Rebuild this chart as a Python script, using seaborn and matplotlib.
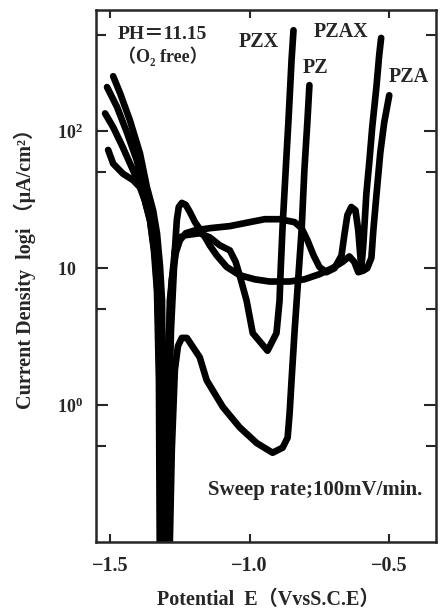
import matplotlib
matplotlib.use("Agg")
import matplotlib.pyplot as plt
import matplotlib.ticker as mticker
import pandas as pd
import seaborn as sns

# potential E (V vs SCE) and current density (uA/cm2)
pzx_e = [-1.489, -1.464, -1.429, -1.393, -1.368, -1.346, -1.332, -1.321, -1.314, -1.311, -1.307,
         -1.300, -1.293, -1.286, -1.268, -1.250, -1.232, -1.179, -1.143, -1.107, -1.071, -1.050,
         -1.036, -1.011, -0.989, -0.936, -0.904, -0.893, -0.889, -0.882, -0.871, -0.861, -0.850, -0.843]
pzx_i = [252, 189, 120, 69, 39, 26.5, 18.0, 10.2, 5.8, 1.09, 0.03,
         0.03, 1.0, 5.8, 13.5, 16.8, 17.4, 18.0, 16.8, 14.7, 13.5, 11.1,
         8.9, 5.8, 3.36, 2.5, 3.36, 5.8, 9.7, 20.3, 52, 120, 330, 546]

pz_e = [-1.511, -1.475, -1.439, -1.404, -1.382, -1.357, -1.339, -1.329, -1.321, -1.318, -1.314,
        -1.293, -1.286, -1.279, -1.268, -1.257, -1.243, -1.225, -1.179, -1.154, -1.096, -1.036,
        -0.975, -0.918, -0.882, -0.864, -0.857, -0.850, -0.839, -0.829, -0.814, -0.804, -0.793, -0.786]
pz_i = [210, 150, 97, 61, 39, 24.4, 14.7, 8.2, 3.0, 0.47, 0.03,
        0.03, 0.1, 0.47, 1.8, 2.7, 3.1, 3.1, 2.24, 1.52, 0.97, 0.69,
        0.53, 0.45, 0.49, 0.58, 0.87, 1.52, 3.5, 6.9, 18.9, 52, 120, 217]

pza_e = [-1.507, -1.489, -1.454, -1.418, -1.393, -1.375, -1.357, -1.343, -1.332, -1.325, -1.321,
         -1.300, -1.289, -1.282, -1.275, -1.268, -1.261, -1.254, -1.243, -1.229, -1.214, -1.196,
         -1.168, -1.143, -1.118, -1.082, -1.036, -0.982, -0.929, -0.857, -0.804, -0.750, -0.704,
         -0.668, -0.643, -0.625, -0.611, -0.593, -0.579, -0.564, -0.557, -0.546, -0.532, -0.518, -0.500]
pza_i = [73, 58, 49, 44, 39, 31, 22.4, 13.5, 6.9, 1.52, 0.03,
         0.03, 0.78, 3.5, 6.9, 13.5, 22.4, 28, 30, 29, 25.7, 21.7,
         18.0, 14.7, 12.4, 10.2, 8.9, 8.3, 8.0, 8.0, 8.3, 9.05, 10.0,
         11.1, 12.2, 11.1, 9.35, 9.6, 10.0, 11.9, 18.9, 34, 70, 116, 183]

pzax_e = [-1.518, -1.489, -1.454, -1.418, -1.382, -1.357, -1.339, -1.329, -1.321, -1.318,
          -1.304, -1.296, -1.289, -1.279, -1.264, -1.250, -1.229, -1.196, -1.143, -1.071, -1.000,
          -0.946, -0.893, -0.839, -0.814, -0.793, -0.771, -0.750, -0.725, -0.696, -0.671, -0.661,
          -0.650, -0.636, -0.621, -0.611, -0.600, -0.593, -0.582, -0.571, -0.561, -0.546, -0.536, -0.529]
pzax_i = [135, 107, 76, 52, 35, 22.4, 12.4, 5.8, 1.09, 0.03,
          0.03, 0.78, 3.5, 8.2, 13.1, 16.0, 18.0, 18.9, 19.6, 20.3, 21.7,
          22.8, 22.8, 21.7, 19.6, 16.0, 12.4, 10.2, 9.35, 10.0, 12.4, 17.4,
          24.4, 28, 26.5, 18.9, 10.0, 14.7, 35, 61, 107, 210, 360, 480]

curve_names = ["PZX", "PZ", "PZA", "PZAX"]
major_ticks = [1, 10, 100]
major_labels = [r"$\mathbf{10^0}$", r"$\mathbf{10}$", r"$\mathbf{10^2}$"]
minor_ticks = [0.5, 5, 50, 500]
x_ticks = [-1.5, -1.0, -0.5]
x_labels = ["\u22121.5", "\u22121.0", "\u22120.5"]

frames = []
for name, e, i in zip(curve_names, [pzx_e, pz_e, pza_e, pzax_e], [pzx_i, pz_i, pza_i, pzax_i]):
    frames.append(pd.DataFrame({"E": e, "i": i, "curve": name}))
df = pd.concat(frames, ignore_index=True)

sns.set_style("ticks")
plt.rcParams["font.family"] = ["Liberation Serif", "Noto Sans CJK JP"]
plt.rcParams["mathtext.fontset"] = "custom"
plt.rcParams["mathtext.rm"] = "Liberation Serif"
plt.rcParams["mathtext.bf"] = "Liberation Serif:bold"

fig = plt.figure(figsize=(4.41, 6.12), dpi=100)
ax = fig.add_axes([0.218, 0.114, 0.771, 0.870])
ax.set_yscale("log")
sns.lineplot(data=df, x="E", y="i", units="curve", estimator=None, sort=False,
             color="black", lw=4.8, ax=ax, legend=False,
             solid_joinstyle="round", solid_capstyle="round")

ax.set_xlim(-1.55, -0.332)
ax.set_ylim(0.1, 770)

ax.set_xticks(x_ticks)
ax.set_xticklabels(x_labels, fontsize=14.5, fontweight="bold")
ax.yaxis.set_major_locator(mticker.FixedLocator(major_ticks))
ax.yaxis.set_minor_locator(mticker.FixedLocator(minor_ticks))
ax.yaxis.set_minor_formatter(mticker.NullFormatter())
ax.set_yticklabels(major_labels, fontsize=13)
for lab in ax.get_yticklabels():
    lab.set_ha("left")

ax.tick_params(axis="x", which="both", direction="in", top=True, length=6, width=1.5, pad=10)
ax.tick_params(axis="y", which="major", direction="in", right=True, length=8.5, width=1.5, pad=28)
ax.tick_params(axis="y", which="minor", direction="in", right=True, length=7, width=1.5)
for sp in ax.spines.values():
    sp.set_linewidth(1.8)
    sp.set_visible(True)

ax.set_xlabel("Potential  E\uff08VvsS.C.E\uff09", fontsize=14.5, fontweight="bold")
ax.set_ylabel("Current Density  logi \uff08\u03bcA/cm\u00b2\uff09", fontsize=14.5, fontweight="bold")
ax.xaxis.set_label_coords(0.506, -0.090)
ax.yaxis.set_label_coords(-0.176, 0.523)

bold = dict(fontsize=14.5, fontweight="bold", ha="center", va="center", transform=ax.transAxes)
ax.text(0.479, 0.940, "PZX", **bold)
ax.text(0.644, 0.891, "PZ", **bold)
ax.text(0.721, 0.959, "PZAX", **bold)
ax.text(0.918, 0.874, "PZA", **bold)
ax.text(0.194, 0.953, "PH\uff1d11.15", fontsize=14, fontweight="bold", ha="center", va="center",
        transform=ax.transAxes)
ax.text(0.197, 0.912, "\uff08O\u2082 free\uff09", fontsize=13, fontweight="bold", ha="center", va="center",
        transform=ax.transAxes)
ax.text(0.644, 0.098, "Sweep rate;100mV/min.", **dict(bold, fontsize=15))

fig.savefig("out.png", dpi=100)
